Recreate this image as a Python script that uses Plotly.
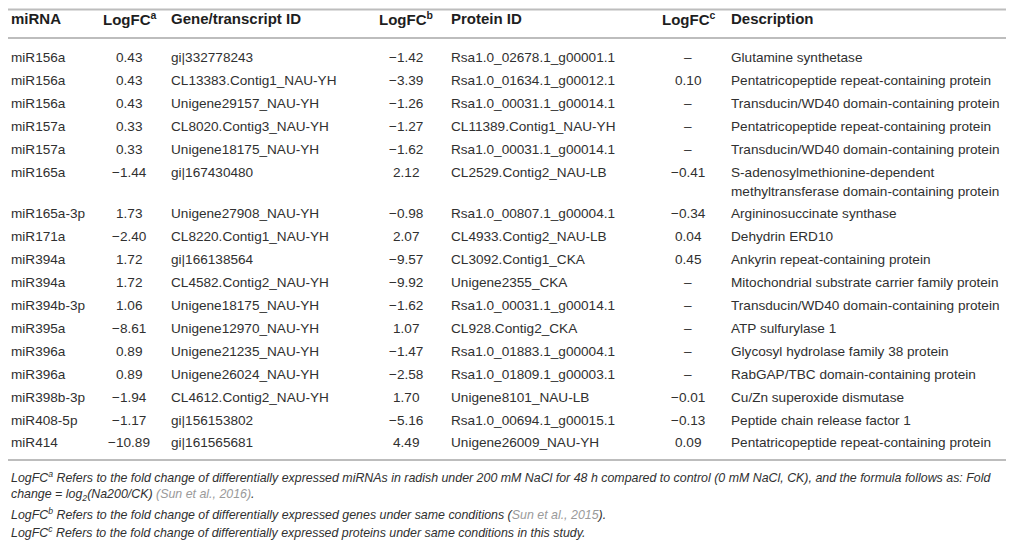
import textwrap
import plotly.graph_objects as go

# table contents
mirna = ['miR156a', 'miR156a', 'miR156a', 'miR157a', 'miR157a', 'miR165a', 'miR165a-3p',
         'miR171a', 'miR394a', 'miR394a', 'miR394b-3p', 'miR395a', 'miR396a', 'miR396a',
         'miR398b-3p', 'miR408-5p', 'miR414']
logfc_a = [0.43, 0.43, 0.43, 0.33, 0.33, -1.44, 1.73, -2.40, 1.72, 1.72, 1.06, -8.61,
           0.89, 0.89, -1.94, -1.17, -10.89]
gene_id = ['gi|332778243', 'CL13383.Contig1_NAU-YH', 'Unigene29157_NAU-YH', 'CL8020.Contig3_NAU-YH',
           'Unigene18175_NAU-YH', 'gi|167430480', 'Unigene27908_NAU-YH', 'CL8220.Contig1_NAU-YH',
           'gi|166138564', 'CL4582.Contig2_NAU-YH', 'Unigene18175_NAU-YH', 'Unigene12970_NAU-YH',
           'Unigene21235_NAU-YH', 'Unigene26024_NAU-YH', 'CL4612.Contig2_NAU-YH', 'gi|156153802',
           'gi|161565681']
logfc_b = [-1.42, -3.39, -1.26, -1.27, -1.62, 2.12, -0.98, 2.07, -9.57, -9.92, -1.62, 1.07,
           -1.47, -2.58, 1.70, -5.16, 4.49]
protein_id = ['Rsa1.0_02678.1_g00001.1', 'Rsa1.0_01634.1_g00012.1', 'Rsa1.0_00031.1_g00014.1',
              'CL11389.Contig1_NAU-YH', 'Rsa1.0_00031.1_g00014.1', 'CL2529.Contig2_NAU-LB',
              'Rsa1.0_00807.1_g00004.1', 'CL4933.Contig2_NAU-LB', 'CL3092.Contig1_CKA',
              'Unigene2355_CKA', 'Rsa1.0_00031.1_g00014.1', 'CL928.Contig2_CKA',
              'Rsa1.0_01883.1_g00004.1', 'Rsa1.0_01809.1_g00003.1', 'Unigene8101_NAU-LB',
              'Rsa1.0_00694.1_g00015.1', 'Unigene26009_NAU-YH']
logfc_c = [None, 0.10, None, None, None, -0.41, -0.34, 0.04, 0.45, None, None, None,
           None, None, -0.01, -0.13, 0.09]
description = ['Glutamine synthetase', 'Pentatricopeptide repeat-containing protein',
               'Transducin/WD40 domain-containing protein', 'Pentatricopeptide repeat-containing protein',
               'Transducin/WD40 domain-containing protein',
               'S-adenosylmethionine-dependent methyltransferase domain-containing protein',
               'Argininosuccinate synthase', 'Dehydrin ERD10', 'Ankyrin repeat-containing protein',
               'Mitochondrial substrate carrier family protein', 'Transducin/WD40 domain-containing protein',
               'ATP sulfurylase 1', 'Glycosyl hydrolase family 38 protein', 'RabGAP/TBC domain-containing protein',
               'Cu/Zn superoxide dismutase', 'Peptide chain release factor 1',
               'Pentatricopeptide repeat-containing protein']

headers = ['miRNA', 'LogFC<sup>a</sup>', 'Gene/transcript ID', 'LogFC<sup>b</sup>',
           'Protein ID', 'LogFC<sup>c</sup>', 'Description']

CITE = '<span style="color:#9a9a9a">%s</span>'
footnotes = [
    'LogFC<sup>a</sup> Refers to the fold change of differentially expressed miRNAs in radish under 200 mM NaCl '
    'for 48 h compared to control (0 mM NaCl, CK), and the formula follows as: Fold',
    'change = log<sub>2</sub>(Na200/CK) ' + CITE % '(Sun et al., 2016)' + '.',
    'LogFC<sup>b</sup> Refers to the fold change of differentially expressed genes under same conditions ('
    + CITE % 'Sun et al., 2015' + ').',
    'LogFC<sup>c</sup> Refers to the fold change of differentially expressed proteins under same conditions in this study.',
]

W, H = 1014, 549
# the page body keeps its 8px margin, so axis ranges are shifted to keep
# coordinates in window pixels
OFF = 8

# column positions (window px) and alignment
col_x = [OFF + 0.5, 129, 169, 406, 449, 688, 729]
col_align = ['left', 'center', 'left', 'center', 'left', 'center', 'left']

FONT = 'Liberation Sans'
TXT = '#303030'
RULE = '#bdbdbd'
SZ = 13.6


def fmt(v):
    if v is None:
        return '–'
    return ('%.2f' % v).replace('-', '−')


fig = go.Figure()
ann = []

# header
for x, a, h in zip(col_x, col_align, headers):
    ann.append(dict(x=x, y=18, text='<b>%s</b>' % h, xanchor=a, yanchor='middle',
                    showarrow=False, font=dict(family=FONT, size=15, color='#1e1e1e')))

# body
y = 57.5
for i in range(len(mirna)):
    cells = [mirna[i], fmt(logfc_a[i]), gene_id[i], fmt(logfc_b[i]),
             protein_id[i], fmt(logfc_c[i]), description[i]]
    nlines = 1
    for j, (x, a, c) in enumerate(zip(col_x, col_align, cells)):
        lines = textwrap.wrap(c, 46) if j == 6 else [c]
        nlines = max(nlines, len(lines))
        for k, ln in enumerate(lines):
            ann.append(dict(x=x, y=y + 19 * k, text=ln, xanchor=a, yanchor='middle',
                            showarrow=False, font=dict(family=FONT, size=SZ, color=TXT)))
    y += 22.9 + 19 * (nlines - 1)

# footnotes
for k, f in enumerate(footnotes):
    ann.append(dict(x=OFF + 0.5, y=477 + 18.3 * k, text='<i>%s</i>' % f, xanchor='left', yanchor='middle',
                    showarrow=False, font=dict(family=FONT, size=12.4, color=TXT)))

# horizontal rules (top, below header, bottom of table)
for ry in [OFF + 1.5, 38, 460]:
    fig.add_shape(type='line', x0=0, x1=W + OFF, y0=ry, y1=ry,
                  line=dict(color=RULE, width=2))

fig.update_layout(
    width=W, height=H,
    margin=dict(l=0, r=0, t=0, b=0),
    plot_bgcolor='white', paper_bgcolor='white',
    xaxis=dict(range=[OFF, W + OFF], visible=False, fixedrange=True),
    yaxis=dict(range=[H + OFF, OFF], visible=False, fixedrange=True),
    annotations=ann,
    showlegend=False,
)

fig.write_html('out.html', config={'displayModeBar': False})
